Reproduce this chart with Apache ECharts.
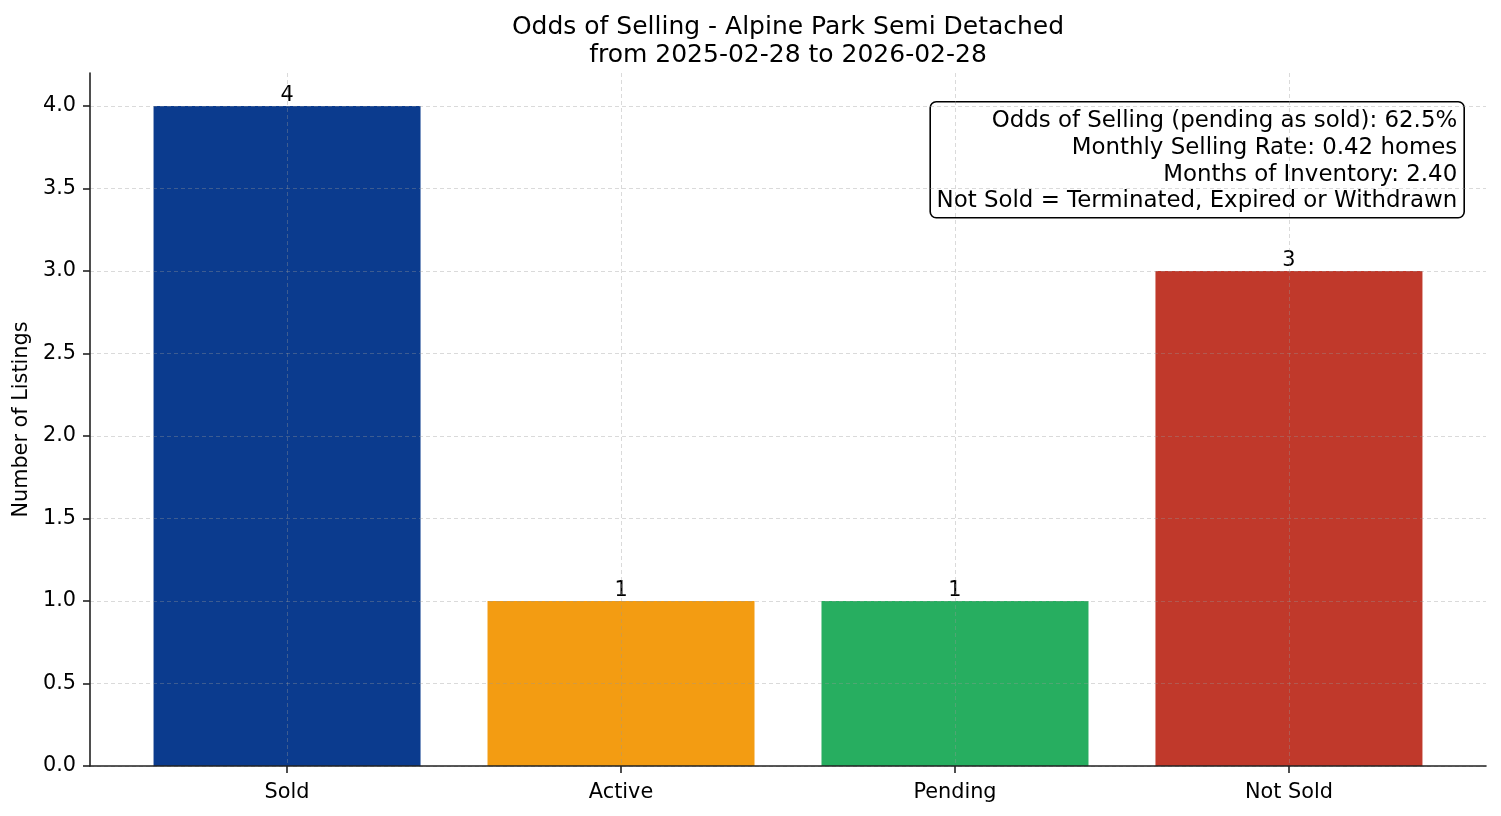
<!DOCTYPE html>
<html>
<head>
<meta charset="utf-8">
<script src="https://cdn.jsdelivr.net/npm/echarts@6/dist/echarts.min.js"></script>
<style>
html, body { margin: 0; padding: 0; background: #fff; }
#chart { width: 1501px; height: 816px; }
</style>
</head>
<body>
<div id="chart"></div>
<script>
// data
var categories = ['Sold', 'Active', 'Pending', 'Not Sold'];
var counts = [4, 1, 1, 3];
var barColors = ['#0b3b8e', '#f39c12', '#27ae60', '#c0392b'];
var yTicks = [0, 0.5, 1.0, 1.5, 2.0, 2.5, 3.0, 3.5, 4.0];
var xTicks = [0, 1, 2, 3];
var noteLines = [
	'Odds of Selling (pending as sold): 62.5%',
	'Monthly Selling Rate: 0.42 homes',
	'Months of Inventory: 2.40',
	'Not Sold = Terminated, Expired or Withdrawn'
];
var titleLines = ['Odds of Selling - Alpine Park Semi Detached', 'from 2025-02-28 to 2026-02-28'];

var FONT = 'DejaVu Sans';
var gridLine = { show: true, lineStyle: { color: 'rgba(150,150,150,0.45)', width: 0.8, type: [4, 3] } };
var axisLn = { show: true, onZero: false, lineStyle: { color: '#222', width: 1.6 } };

var barData = [];
for (var i = 0; i < counts.length; i++) {
	barData.push({ value: [i, counts[i]], itemStyle: { color: barColors[i] } });
}

var myChart = echarts.init(document.getElementById('chart'));
var option = {
	backgroundColor: '#fff',
	animation: false,
	title: {
		text: titleLines.join('\n'),
		left: 788,
		top: 13,
		padding: 0,
		textAlign: 'center',
		textStyle: { fontFamily: FONT, fontSize: 25, fontWeight: 'normal', color: '#000', lineHeight: 28 }
	},
	grid: { left: 90, right: 15, top: 73, bottom: 50 },
	xAxis: {
		type: 'value',
		min: -0.59,
		max: 3.59,
		z: 3,
		axisLine: axisLn,
		axisTick: { show: true, customValues: xTicks, length: 7, lineStyle: { color: '#222', width: 1.6 } },
		axisLabel: {
			customValues: xTicks,
			margin: 16,
			fontFamily: FONT, fontSize: 20.8, color: '#000',
			formatter: function (v) { return categories[Math.round(v)]; }
		},
		splitLine: gridLine
	},
	yAxis: {
		type: 'value',
		min: 0,
		max: 4.2,
		z: 3,
		name: 'Number of Listings',
		nameLocation: 'middle',
		nameGap: 49,
		nameTextStyle: { fontFamily: FONT, fontSize: 20.8, color: '#000' },
		axisLine: axisLn,
		axisTick: { show: true, customValues: yTicks, length: 7, lineStyle: { color: '#222', width: 1.6 } },
		axisLabel: {
			customValues: yTicks,
			margin: 14,
			fontFamily: FONT, fontSize: 20.8, color: '#000',
			formatter: function (v) { return v.toFixed(1); }
		},
		splitLine: gridLine
	},
	series: [{
		type: 'bar',
		data: barData,
		barWidth: 267,
		label: {
			show: true,
			position: 'top',
			distance: 0,
			fontFamily: FONT, fontSize: 20.8, color: '#000',
			formatter: function (p) { return p.value[1]; }
		}
	}],
	graphic: [{
		type: 'group',
		right: 36,
		top: 101,
		z: 10,
		children: [{
			type: 'rect',
			shape: { x: 0, y: 0, width: 534, height: 116, r: 6 },
			style: { fill: '#fff', stroke: '#000', lineWidth: 1.6 }
		}, {
			type: 'text',
			x: 527,
			y: 6,
			style: {
				text: noteLines.join('\n'),
				align: 'right',
				verticalAlign: 'top',
				fontFamily: FONT,
				fontSize: 22.9,
				lineHeight: 26.7,
				fill: '#000'
			}
		}]
	}]
};
myChart.setOption(option);
</script>
</body>
</html>
